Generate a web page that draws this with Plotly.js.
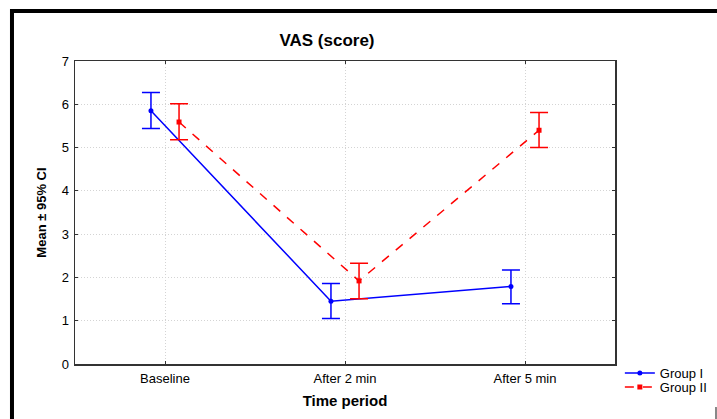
<!DOCTYPE html>
<html>
<head>
<meta charset="utf-8">
<script src="https://cdn.plot.ly/plotly-3.0.1.min.js"></script>
<style>html,body{margin:0;padding:0;background:#fff;}#chart{width:717px;height:419px;}</style>
</head>
<body>
<div id="chart"></div>
<script>
const categories = ["Baseline", "After 2 min", "After 5 min"];
const group1Mean = [5.85, 1.45, 1.79];
const group1Upper = [6.27, 1.86, 2.17];
const group1Lower = [5.44, 1.05, 1.39];
const group2Mean = [5.59, 1.92, 5.40];
const group2Upper = [6.01, 2.33, 5.81];
const group2Lower = [5.18, 1.51, 5.00];
const yTicks = [0, 1, 2, 3, 4, 5, 6, 7];

const offset = 0.078;
const idx = categories.map((c, i) => i);

function trace(name, mean, up, lo, color, dash, symbol, shift, legend) {
  return {
    type: 'scatter', mode: 'lines+markers', name: name, legend: legend,
    x: idx.map(i => i + shift), y: mean,
    line: {color: color, width: 1.5, dash: dash},
    marker: {color: color, symbol: symbol, size: 5},
    error_y: {type: 'data', symmetric: false,
      array: mean.map((m, i) => up[i] - m),
      arrayminus: mean.map((m, i) => m - lo[i]),
      color: color, thickness: 1.5, width: 9}
  };
}

const data = [
  trace('Group I', group1Mean, group1Upper, group1Lower, '#0000ff', 'solid', 'circle', -offset, 'legend'),
  trace('Group II', group2Mean, group2Upper, group2Lower, '#ff0000', 'dash', 'square', offset, 'legend2')
];

const fontFam = '"Liberation Sans", Arial, sans-serif';
const legBase = {xanchor: 'left', yanchor: 'middle', font: {size: 13}, itemwidth: 30, bgcolor: 'rgba(0,0,0,0)', borderwidth: 0};
const layout = {
  width: 717, height: 419,
  margin: {l: 75, r: 102, t: 61, b: 55, autoexpand: false},
  paper_bgcolor: '#fff', plot_bgcolor: '#fff',
  font: {family: fontFam, size: 13, color: '#000'},
  title: {text: '<b>VAS (score)</b>', font: {size: 17, family: fontFam}, x: 0.456, xanchor: 'center', y: 0.905, yanchor: 'middle'},
  showlegend: true,
  legend: Object.assign({x: 1.009, y: -0.03}, legBase),
  legend2: Object.assign({x: 1.009, y: -0.076}, legBase),
  xaxis: {
    range: [-0.5, 2.5], tickvals: idx, ticktext: categories,
    showline: true, linecolor: '#333', linewidth: 1.5, mirror: 'ticks',
    ticks: 'inside', ticklen: 3, tickcolor: '#333',
    showgrid: true, gridcolor: '#d4d4d4', griddash: '1px,2px', gridwidth: 1,
    zeroline: false, tickfont: {size: 13}, ticklabelstandoff: 2,
    title: {text: '<b>Time period</b>', font: {size: 15}, standoff: 10}
  },
  yaxis: {
    range: [0, 7], tickvals: yTicks,
    showline: true, linecolor: '#333', linewidth: 1.5, mirror: 'ticks',
    ticks: 'inside', ticklen: 3, tickcolor: '#333',
    showgrid: true, gridcolor: '#d4d4d4', griddash: '1px,2px', gridwidth: 1,
    zeroline: false, tickfont: {size: 13}, ticklabelstandoff: 2,
    title: {text: '<b>Mean ± 95% CI</b>', font: {size: 13}, standoff: 12}
  },
  shapes: [
    {type: 'path', xref: 'paper', yref: 'paper',
     path: 'M -0.1167 -0.2 L -0.1167 1.165 L 1.2 1.165',
     line: {color: '#000', width: 4}},
    {type: 'line', xref: 'paper', yref: 'paper', x0: 1.187, x1: 1.187, y0: -0.142, y1: -0.2,
     line: {color: '#888', width: 2}}
  ]
};

Plotly.newPlot('chart', data, layout, {displayModeBar: false, staticPlot: true});
</script>
</body>
</html>
